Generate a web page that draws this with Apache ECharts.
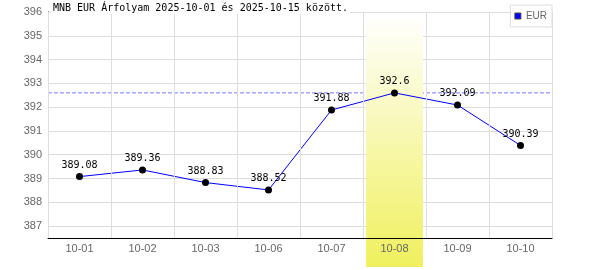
<!DOCTYPE html>
<html>
<head>
<meta charset="utf-8">
<script src="https://cdn.jsdelivr.net/npm/echarts@6/dist/echarts.min.js"></script>
<style>html,body{margin:0;padding:0;background:#fff}#c{width:600px;height:270px}</style>
</head>
<body>
<div id="c"></div>
<script>
var titleText = 'MNB EUR Árfolyam 2025-10-01 és 2025-10-15 között.';
var seriesName = 'EUR';
var categories = ['10-01', '10-02', '10-03', '10-06', '10-07', '10-08', '10-09', '10-10'];
var rates = [389.08, 389.36, 388.83, 388.52, 391.88, 392.6, 392.09, 390.39];
var highlightCategory = '10-08';
var yMin = 386.5;
var yMax = 396;

var bandData = categories.map(function (c) { return c === highlightCategory ? 1 : '-'; });
var maxRate = Math.max.apply(null, rates);
var maxLineData = [[0, maxRate], [1, maxRate]];

var chart = echarts.init(document.getElementById('c'), null, { renderer: 'canvas' });
chart.setOption({
  animation: false,
  backgroundColor: '#fff',
  title: {
    text: titleText,
    left: 51,
    top: 2,
    padding: [1, 2],
    backgroundColor: '#fff',
    textStyle: { fontFamily: 'DejaVu Sans Mono', fontSize: 10, fontWeight: 'normal', color: '#000' }
  },
  legend: {
    data: [{ name: seriesName, itemStyle: { color: '#0000ff', borderColor: '#444', borderWidth: 1 } }],
    right: 48,
    top: 5,
    icon: 'rect',
    itemWidth: 6,
    itemHeight: 6,
    padding: [6, 5, 6, 4],
    borderColor: '#ddd',
    borderWidth: 1,
    backgroundColor: '#fff',
    textStyle: { fontFamily: 'Liberation Sans', fontSize: 10, color: '#666' }
  },
  grid: [
    { left: 48, right: 48, top: 12, bottom: 32 },
    { left: 48, right: 48, top: 15, bottom: 3 }
  ],
  xAxis: [
    {
      type: 'category', gridIndex: 0, data: categories, boundaryGap: true, z: 3,
      axisLine: { lineStyle: { color: '#000', width: 1 } },
      axisTick: { show: false },
      axisLabel: { fontFamily: 'Liberation Sans', fontSize: 11, color: '#666', margin: 5 },
      splitLine: { show: true, interval: 0, lineStyle: { color: '#ddd', width: 1 } }
    },
    {
      type: 'category', gridIndex: 1, data: categories, boundaryGap: true, show: false
    },
    {
      type: 'value', gridIndex: 0, min: 0, max: 1, show: false
    }
  ],
  yAxis: [
    {
      type: 'value', gridIndex: 0, min: yMin, max: yMax, splitNumber: 10,
      axisLine: { show: true, lineStyle: { color: '#000', width: 1 } },
      axisTick: { show: false },
      axisLabel: { fontFamily: 'Liberation Sans', fontSize: 11, color: '#666', margin: 6, showMinLabel: false },
      splitLine: { show: true, lineStyle: { color: '#ddd', width: 1 } }
    },
    { type: 'value', gridIndex: 1, min: 0, max: 1, show: false }
  ],
  series: [
    {
      type: 'bar', xAxisIndex: 1, yAxisIndex: 1, data: bandData, barWidth: 57, z: 1,
      silent: true,
      itemStyle: {
        color: new echarts.graphic.LinearGradient(0, 0, 0, 1, [
          { offset: 0, color: '#ffffff' },
          { offset: 1, color: '#f0f05e' }
        ])
      }
    },
    {
      name: 'maxline', type: 'line', xAxisIndex: 2, yAxisIndex: 0, data: maxLineData, z: 0.5,
      silent: true, symbol: 'none',
      lineStyle: { color: '#7a7aff', type: [4, 2], width: 1 }
    },
    {
      name: seriesName, type: 'line', xAxisIndex: 0, yAxisIndex: 0, data: rates, z: 2,
      symbol: 'circle', symbolSize: 7,
      itemStyle: { color: '#000' },
      lineStyle: { color: '#0000ff', width: 1 },
      label: {
        show: true, position: 'top', distance: 3,
        fontFamily: 'DejaVu Sans Mono', fontSize: 10, color: '#000'
      }
    }
  ]
});
</script>
</body>
</html>
